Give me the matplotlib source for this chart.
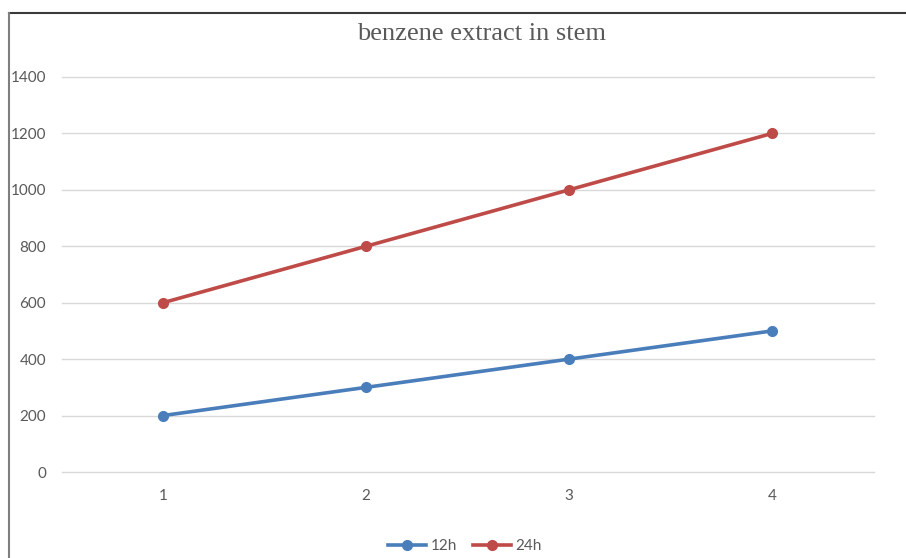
import matplotlib
matplotlib.use("Agg")
import matplotlib.pyplot as plt
from matplotlib.lines import Line2D

# Data
categories = [1, 2, 3, 4]
series_12h = [200, 300, 400, 500]
series_24h = [600, 800, 1000, 1200]
series_names = ["12h", "24h"]
y_ticks = [0, 200, 400, 600, 800, 1000, 1200, 1400]

W, H = 906, 558
fig = plt.figure(figsize=(W / 100, H / 100), dpi=100)
fig.patch.set_facecolor("white")

left, right, top, bottom = 61.5, 873.5, 77, 472
ax = fig.add_axes([left / W, 1 - bottom / H, (right - left) / W, (bottom - top) / H])

blue = "#4A7EBB"
red = "#BE4B48"
for vals, color, name in [(series_12h, blue, series_names[0]), (series_24h, red, series_names[1])]:
    ax.plot(categories, vals, color=color, lw=2.6, marker="o", ms=7,
            markerfacecolor=color, markeredgecolor=color, label=name,
            solid_capstyle="round", zorder=3)

ax.set_xlim(0.5, 4.5)
ax.set_ylim(0, 1400)
ax.set_yticks(y_ticks)
ax.set_xticks(categories)
ax.set_xticklabels([str(c) for c in categories])
ax.grid(axis="y", color="#D9D9D9", lw=1)
for gl in ax.get_ygridlines():
    gl.set_clip_on(False)
ax.set_axisbelow(True)
for s in ax.spines.values():
    s.set_visible(False)
ax.tick_params(axis="both", length=0, labelsize=11, labelcolor="#595959")
for lbl in ax.get_xticklabels() + ax.get_yticklabels():
    lbl.set_family("Lato")
ax.tick_params(axis="y", pad=11)
ax.tick_params(axis="x", pad=12)

# Title
fig.text(482 / W, 1 - 34 / H, "benzene extract in stem", ha="center", va="center",
         family="Liberation Serif", fontsize=19, color="#595959")

# Legend
handles = [Line2D([0], [0], color=blue, lw=2.6, marker="o", ms=7),
           Line2D([0], [0], color=red, lw=2.6, marker="o", ms=7)]
fig.legend(handles, series_names, loc="center", bbox_to_anchor=(465 / W, 1 - 546 / H),
           ncol=2, frameon=False, prop={"family": "Lato", "size": 11}, labelcolor="#595959",
           handlelength=2.5, handletextpad=0.3, columnspacing=1.0)

# Chart frame
fig.add_artist(Line2D([9 / W, 905 / W], [1 - 13 / H, 1 - 13 / H], transform=fig.transFigure,
                      color="#3A3A3A", lw=1.5))
fig.add_artist(Line2D([9 / W, 9 / W], [1 - 13 / H, 0], transform=fig.transFigure,
                      color="#7F7F7F", lw=1.5))

fig.savefig("out.png", dpi=100)
